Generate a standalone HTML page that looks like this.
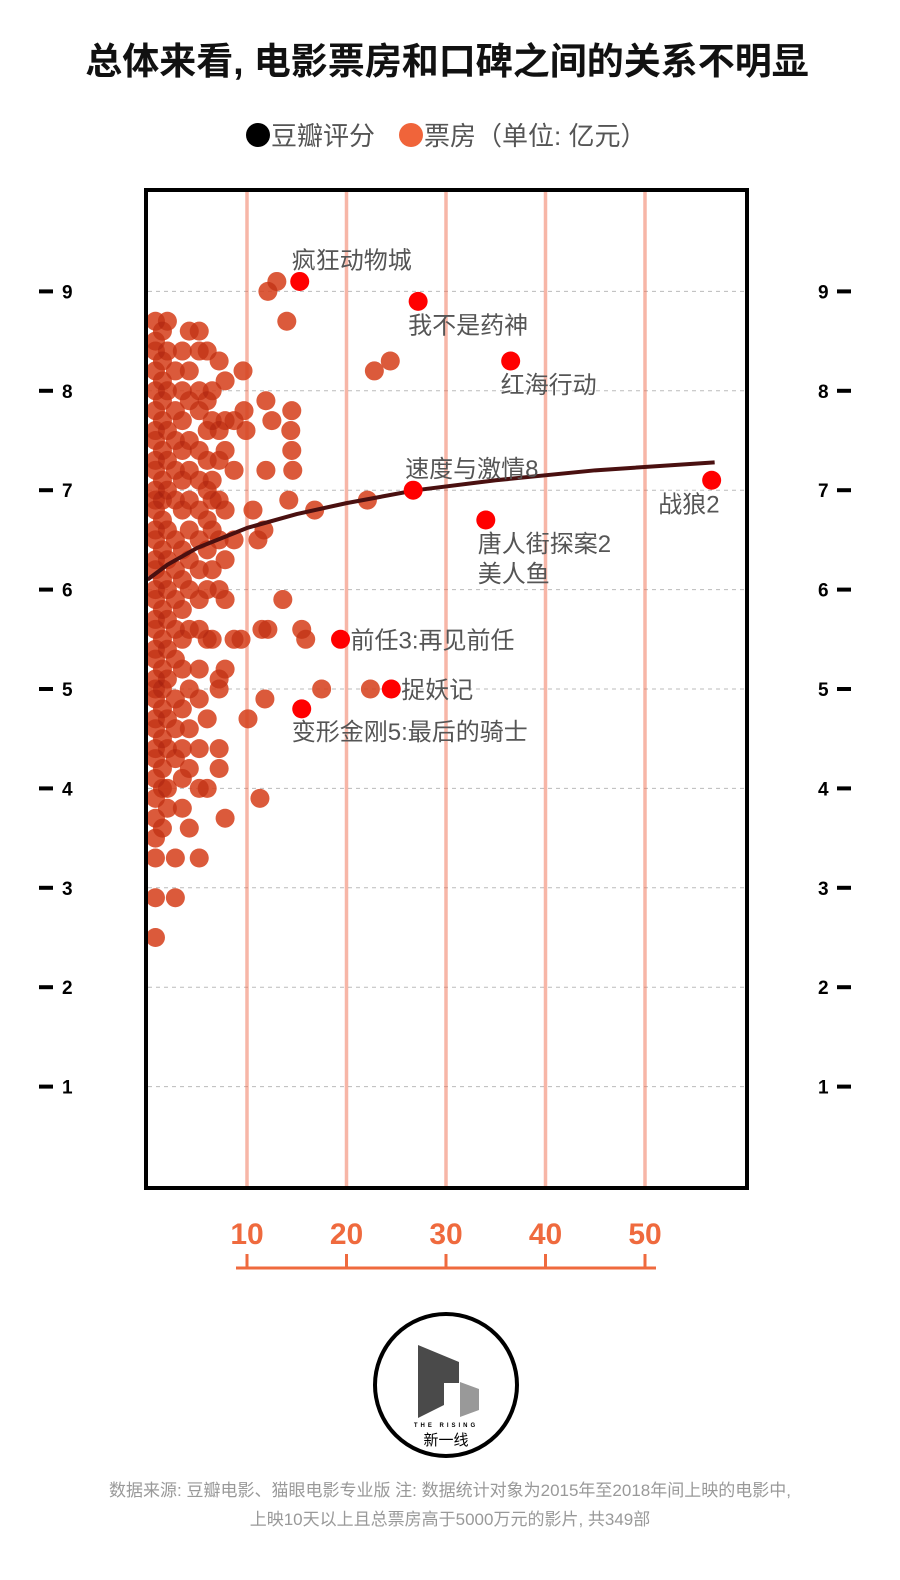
<!DOCTYPE html>
<html><head><meta charset="utf-8">
<style>
body{margin:0;background:#fff;width:900px;height:1580px;overflow:hidden;font-family:"Liberation Sans","Noto Sans CJK SC",sans-serif;}
svg{display:block}
</style></head>
<body>
<svg id="chart" width="900" height="1580" xmlns="http://www.w3.org/2000/svg">
<text x="447" y="74" text-anchor="middle" font-size="37" font-weight="bold" fill="#111" font-family="Liberation Sans, Noto Sans CJK SC, sans-serif">总体来看, 电影票房和口碑之间的关系不明显</text>
<g font-family="Liberation Sans, Noto Sans CJK SC, sans-serif" font-size="26" fill="#555">
<circle cx="258" cy="135" r="12" fill="#000"/>
<text x="271" y="145">豆瓣评分</text>
<circle cx="411" cy="135" r="12" fill="#f0643a"/>
<text x="424" y="145">票房（单位: 亿元）</text>
</g>
<g id="grid"></g>
<g id="dots"></g>
<g id="dark"></g>
<g id="fit"></g>
<g id="hl"></g>
<rect x="146" y="190" width="601" height="998" fill="none" stroke="#000" stroke-width="4"/>
<g id="axes"></g>
<g>
<circle cx="446" cy="1385" r="71" fill="#fff" stroke="#000" stroke-width="4"/>
<polygon points="418,1345 459,1362 459,1383 444,1383 444,1405 418,1418" fill="#4a4a4a"/>
<polygon points="460,1382 479,1389 479,1410 460,1417" fill="#999"/>
<text x="446" y="1427" text-anchor="middle" font-size="6" font-weight="bold" letter-spacing="3" fill="#000">THE RISING</text>
<text x="446" y="1445" text-anchor="middle" font-size="15" fill="#000" font-family="Liberation Sans, Noto Sans CJK SC, sans-serif">新一线</text>
</g>
<g font-size="17" fill="#999" text-anchor="middle" font-family="Liberation Sans, Noto Sans CJK SC, sans-serif">
<text x="450" y="1496">数据来源: 豆瓣电影、猫眼电影专业版 注: 数据统计对象为2015年至2018年间上映的电影中,</text>
<text x="450" y="1525">上映10天以上且总票房高于5000万元的影片, 共349部</text>
</g>
</svg>
<script>
const xTicks=[10,20,30,40,50];
const yTicks=[1,2,3,4,5,6,7,8,9];
const fitX=[0,2,5,10,15,20,27,35,45,57];
const fitY=[6.1,6.25,6.42,6.62,6.76,6.87,7.0,7.1,7.2,7.28];
const hlNames=["疯狂动物城","我不是药神","红海行动","速度与激情8","战狼2","唐人街探案2","前任3:再见前任","捉妖记","变形金刚5:最后的骑士"];
const hlX=[15.3,27.2,36.5,26.7,56.7,34.0,19.4,24.5,15.5];
const hlY=[9.1,8.9,8.3,7.0,7.1,6.7,5.5,5.0,4.8];
const colX=[0.8,1.5,2.0,2.8,3.5,4.2,5.2,6.0,6.5,7.2,7.8,8.7];
const colY=[
[8.7,8.5,8.4,8.2,8.0,7.8,7.6,7.5,7.3,7.2,7.0,6.9,6.8,6.6,6.5,6.3,6.2,6.0,5.9,5.7,5.6,5.4,5.3,5.1,5.0,4.9,4.7,4.6,4.4,4.3,4.1,3.9,3.7,3.5,3.3,2.9,2.5],
[8.6,8.3,8.1,7.9,7.7,7.4,7.1,6.9,6.7,6.4,6.1,5.8,5.5,5.2,5.0,4.8,4.5,4.2,4.0,3.6],
[8.7,8.4,8.0,7.6,7.3,7.0,6.6,6.3,6.0,5.7,5.4,5.1,4.7,4.4,4.0,3.8],
[8.2,7.8,7.5,7.2,6.9,6.5,6.2,5.9,5.6,5.3,4.9,4.6,4.3,3.3,2.9],
[8.4,8.0,7.7,7.4,7.1,6.8,6.4,6.1,5.8,5.5,5.2,4.8,4.4,4.1,3.8],
[8.6,8.2,7.9,7.5,7.2,6.9,6.6,6.3,6.0,5.6,5.0,4.6,4.2,3.6],
[8.6,8.4,8.0,7.8,7.4,7.1,6.8,6.5,6.2,5.9,5.6,5.2,4.9,4.4,4.0,3.3],
[8.4,7.9,7.6,7.3,7.0,6.7,6.4,6.0,5.5,4.7,4.0],
[8.0,7.7,7.1,6.9,6.6,6.2,5.5],
[8.3,7.6,7.3,6.9,6.5,6.0,5.1,5.0,4.4,4.2],
[8.1,7.7,7.4,6.8,6.3,5.9,5.2],
[7.7,7.2,6.5]];
const outX=[12.1,13.0,14.0,9.6,11.9,12.5,14.5,14.4,14.5,14.6,11.9,14.2,16.8,22.1,22.8,24.4,10.6,11.1,11.7,13.6,11.5,12.1,15.5,15.9,17.5,22.4,11.8,10.1,11.3,7.8,8.7,9.4,9.7,9.9];
const outY=[9.0,9.1,8.7,8.2,7.9,7.7,7.8,7.6,7.4,7.2,7.2,6.9,6.8,6.9,8.2,8.3,6.8,6.5,6.6,5.9,5.6,5.6,5.6,5.5,5.0,5.0,4.9,4.7,3.9,3.7,5.5,5.5,7.8,7.6];
const NS="http://www.w3.org/2000/svg";
const sx=v=>147.5+v*9.95;
const sy=v=>1186-v*99.4;
function mk(t,a,p){const e=document.createElementNS(NS,t);for(const k in a)e.setAttribute(k,a[k]);p.appendChild(e);return e;}
const grid=document.getElementById('grid');
yTicks.forEach(t=>{const l=mk('line',{x1:148,x2:745,y1:sy(t),y2:sy(t),stroke:'#bbb','stroke-dasharray':'4,4','stroke-width':1},grid);

});
xTicks.forEach(t=>{const l=mk('line',{x1:sx(t),x2:sx(t),y1:192,y2:1186,stroke:'rgba(240,110,80,0.5)','stroke-width':3.5},grid);

});
const dots=document.getElementById('dots');
const dark=document.getElementById('dark');
function dot(x,y){const c=mk('circle',{cx:sx(x),cy:sy(y),r:9.5,fill:'rgb(240,85,40)','fill-opacity':0.85},dots);


const s=mk('circle',{cx:sx(x),cy:sy(y),r:9.5,fill:'#700','fill-opacity':0.18},dark);

}
colX.forEach((x,i)=>colY[i].forEach(y=>dot(x,y)));
outX.forEach((x,i)=>dot(x,outY[i]));
const fit=document.getElementById('fit');
let d='';fitX.forEach((x,i)=>{d+=(i?'L':'M')+sx(x)+','+sy(fitY[i])});
const fp=mk('path',{d:d,fill:'none',stroke:'#4a1010','stroke-width':4,'stroke-linejoin':'round'},fit);


const hl=document.getElementById('hl');
const lab=[[-8,-13,'start'],[-10,32,'start'],[-10,32,'start'],[-8,-13,'start'],[8,32,'end'],[-8,32,'start'],[10,9,'start'],[10,9,'start'],[-10,31,'start']];
const LF='Liberation Sans Narrow, Liberation Sans, Noto Sans CJK SC, sans-serif';
hlX.forEach((x,i)=>{const c=mk('circle',{cx:sx(x),cy:sy(hlY[i]),r:9.5,fill:'#f00'},hl);


const t=mk('text',{x:sx(x)+lab[i][0],y:sy(hlY[i])+lab[i][1],'text-anchor':lab[i][2],'font-size':24,fill:'#555','font-family':LF},hl);
t.textContent=hlNames[i];


if(i==5){const t2=mk('text',{x:sx(x)-8,y:sy(hlY[i])+62,'font-size':24,fill:'#555','font-family':LF},hl);
t2.textContent='美人鱼';

}});
const ax=document.getElementById('axes');
yTicks.forEach(t=>{const y=sy(t);
mk('line',{x1:39,x2:53,y1:y,y2:y,stroke:'#000','stroke-width':4},ax);
const a=mk('text',{x:62,y:y+7,'font-size':19,'font-weight':'bold',fill:'#000','font-family':'Liberation Sans Narrow, Liberation Sans, sans-serif'},ax);a.textContent=t;


const b=mk('text',{x:818,y:y+7,'font-size':19,'font-weight':'bold',fill:'#000','font-family':'Liberation Sans Narrow, Liberation Sans, sans-serif'},ax);b.textContent=t;


mk('line',{x1:837,x2:851,y1:y,y2:y,stroke:'#000','stroke-width':4},ax);});
const xl=mk('line',{x1:236,x2:656,y1:1268,y2:1268,stroke:'#ef6a3e','stroke-width':3},ax);


xTicks.forEach(t=>{const x=sx(t);
mk('line',{x1:x,x2:x,y1:1254,y2:1268,stroke:'#ef6a3e','stroke-width':3},ax);
const a=mk('text',{x:x,y:1244,'text-anchor':'middle','font-size':30,'font-weight':'bold',fill:'#ef6a3e'},ax);a.textContent=t;

});
</script>
</body></html>
